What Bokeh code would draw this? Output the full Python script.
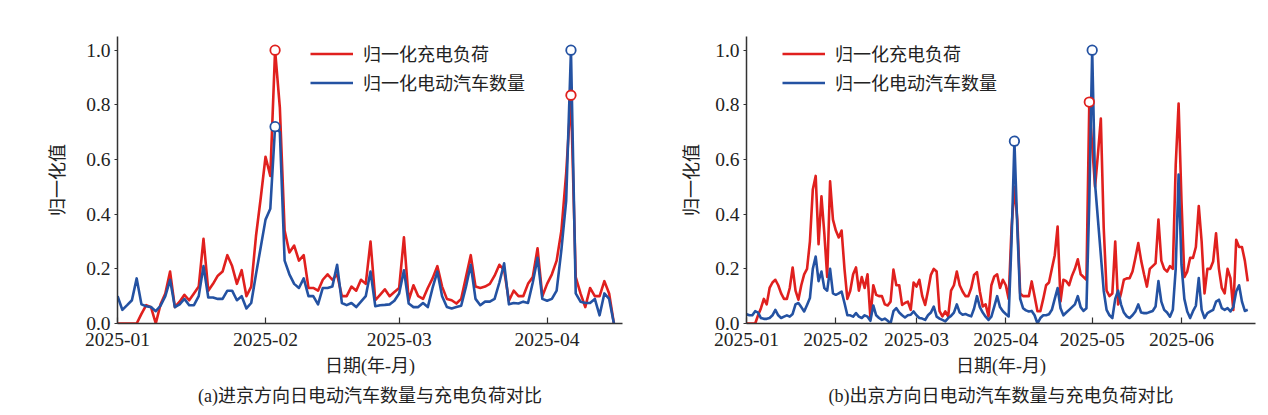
import pandas as pd
from bokeh.plotting import figure
from bokeh.models import (Range1d, DatetimeTickFormatter, Legend, LegendItem,
                          Title, FixedTicker, PrintfTickFormatter)
from bokeh.layouts import row
from bokeh.embed import file_html
from bokeh.resources import INLINE

# ---------------- data ----------------
start_date = "2025-01-01"
month_ticks = ["2025-01-01", "2025-02-01", "2025-03-01", "2025-04-01",
               "2025-05-01", "2025-06-01", "2025-07-01"]

# (a) 进京方向, daily values from 2025-01-01
red_a = [
    0.0, 0.0, 0.0, 0.0, 0.0, 0.035, 0.067, 0.06, 0.0, 0.07,
    0.11, 0.19, 0.06, 0.08, 0.105, 0.085, 0.11, 0.135, 0.31, 0.12,
    0.145, 0.175, 0.19, 0.25, 0.21, 0.145, 0.195, 0.10, 0.135, 0.32,
    0.46, 0.61, 0.54, 1.0, 0.79, 0.34, 0.26, 0.285, 0.23, 0.25,
    0.13, 0.13, 0.12, 0.16, 0.18, 0.16, 0.18, 0.10, 0.10, 0.135,
    0.12, 0.16, 0.145, 0.30, 0.085, 0.105, 0.125, 0.10, 0.115, 0.13,
    0.315, 0.085, 0.14, 0.10, 0.09, 0.13, 0.165, 0.21, 0.135, 0.09,
    0.085, 0.073, 0.09, 0.17, 0.25, 0.135, 0.13, 0.135, 0.145, 0.175,
    0.215, 0.195, 0.083, 0.12, 0.10, 0.10, 0.145, 0.17, 0.275, 0.10,
    0.145, 0.18, 0.23, 0.34, 0.55, 0.835, 0.17, 0.11, 0.06, 0.13,
    0.10, 0.10, 0.155, 0.11, 0.0]
blue_a = [
    0.10, 0.05, 0.067, 0.085, 0.165, 0.07, 0.063, 0.06, 0.045, 0.065,
    0.10, 0.16, 0.06, 0.07, 0.09, 0.067, 0.067, 0.10, 0.21, 0.095,
    0.095, 0.09, 0.09, 0.12, 0.12, 0.085, 0.10, 0.055, 0.075, 0.18,
    0.28, 0.38, 0.42, 0.72, 0.70, 0.23, 0.18, 0.145, 0.13, 0.165,
    0.10, 0.10, 0.07, 0.13, 0.13, 0.135, 0.215, 0.075, 0.067, 0.075,
    0.06, 0.08, 0.10, 0.19, 0.063, 0.067, 0.068, 0.07, 0.083, 0.11,
    0.195, 0.073, 0.06, 0.06, 0.075, 0.06, 0.13, 0.19, 0.10, 0.06,
    0.055, 0.06, 0.065, 0.135, 0.215, 0.09, 0.067, 0.08, 0.08, 0.09,
    0.15, 0.22, 0.07, 0.075, 0.073, 0.08, 0.075, 0.15, 0.24, 0.09,
    0.083, 0.09, 0.12, 0.27, 0.45, 1.0, 0.11, 0.08, 0.075, 0.075,
    0.09, 0.03, 0.11, 0.09, 0.0]
mark_a_red = [33, 95]
mark_a_blue = [33, 95]

# (b) 出京方向, daily values from 2025-01-01
red_b = [
    0.0, 0.0, 0.0, 0.0, 0.03, 0.056, 0.09, 0.07, 0.13, 0.15,
    0.16, 0.14, 0.11, 0.09, 0.09, 0.13, 0.205, 0.12, 0.087, 0.14,
    0.18, 0.20, 0.30, 0.49, 0.54, 0.29, 0.465, 0.33, 0.17, 0.52,
    0.38, 0.34, 0.315, 0.34, 0.20, 0.09, 0.12, 0.18, 0.205, 0.12,
    0.17, 0.13, 0.18, 0.02, 0.14, 0.105, 0.10, 0.10, 0.07, 0.066,
    0.08, 0.197, 0.14, 0.14, 0.068, 0.075, 0.08, 0.05, 0.15, 0.135,
    0.16, 0.10, 0.068, 0.12, 0.178, 0.20, 0.19, 0.045, 0.026, 0.044,
    0.026, 0.12, 0.14, 0.19, 0.14, 0.117, 0.10, 0.10, 0.13, 0.178,
    0.188, 0.117, 0.062, 0.07, 0.026, 0.14, 0.172, 0.18, 0.13, 0.16,
    0.14, 0.09, 0.35, 0.50, 0.38, 0.11, 0.10, 0.10, 0.10, 0.154,
    0.10, 0.045, 0.045, 0.09, 0.14, 0.15, 0.20, 0.25, 0.355, 0.08,
    0.16, 0.155, 0.14, 0.175, 0.20, 0.235, 0.18, 0.17, 0.16, 0.81,
    0.65, 0.50, 0.62, 0.75, 0.35, 0.12, 0.10, 0.11, 0.30, 0.07,
    0.11, 0.16, 0.165, 0.166, 0.19, 0.24, 0.294, 0.23, 0.18, 0.135,
    0.20, 0.21, 0.22, 0.38, 0.23, 0.20, 0.19, 0.21, 0.20, 0.58,
    0.805, 0.45, 0.17, 0.19, 0.24, 0.24, 0.28, 0.43, 0.30, 0.11,
    0.20, 0.20, 0.227, 0.33, 0.20, 0.13, 0.11, 0.20, 0.166, 0.05,
    0.306, 0.28, 0.28, 0.23, 0.154]
blue_b = [
    0.034, 0.03, 0.03, 0.045, 0.04, 0.02, 0.017, 0.017, 0.02, 0.03,
    0.05, 0.03, 0.02, 0.025, 0.03, 0.025, 0.035, 0.07, 0.075, 0.06,
    0.044, 0.068, 0.093, 0.20, 0.245, 0.155, 0.19, 0.13, 0.12, 0.20,
    0.11, 0.105, 0.11, 0.117, 0.075, 0.03, 0.03, 0.025, 0.038, 0.025,
    0.02, 0.03, 0.025, 0.01, 0.066, 0.03, 0.02, 0.013, 0.018, 0.01,
    0.0, 0.045, 0.056, 0.04, 0.03, 0.022, 0.03, 0.032, 0.044, 0.03,
    0.02, 0.018, 0.013, 0.03, 0.04, 0.062, 0.025, 0.018, 0.013, 0.008,
    0.02, 0.028, 0.04, 0.07, 0.04, 0.032, 0.035, 0.03, 0.026, 0.055,
    0.10, 0.06, 0.04, 0.025, 0.013, 0.025, 0.062, 0.10, 0.06, 0.045,
    0.035, 0.026, 0.30, 0.667, 0.35, 0.09, 0.056, 0.048, 0.044, 0.046,
    0.03, 0.0, 0.02, 0.03, 0.03, 0.034, 0.05, 0.09, 0.13, 0.056,
    0.03, 0.04, 0.05, 0.06, 0.07, 0.10, 0.06, 0.046, 0.056, 0.45,
    1.0, 0.51, 0.38, 0.25, 0.12, 0.05, 0.03, 0.02, 0.09, 0.12,
    0.07, 0.04, 0.026, 0.02, 0.03, 0.044, 0.07, 0.04, 0.038, 0.038,
    0.042, 0.046, 0.062, 0.155, 0.08, 0.05, 0.04, 0.025, 0.05, 0.20,
    0.545, 0.215, 0.09, 0.044, 0.02, 0.045, 0.065, 0.166, 0.05, 0.02,
    0.038, 0.044, 0.05, 0.08, 0.087, 0.056, 0.05, 0.056, 0.044, 0.06,
    0.117, 0.14, 0.08, 0.046, 0.05]
mark_b_red = [119]
mark_b_blue = [93, 120]

y_ticks = [0.0, 0.2, 0.4, 0.6, 0.8, 1.0]
label_red = "归一化充电负荷"
label_blue = "归一化电动汽车数量"
x_title = "日期(年-月)"
y_title = "归一化值"
caption_a = "(a)进京方向日电动汽车数量与充电负荷对比"
caption_b = "(b)出京方向日电动汽车数量与充电负荷对比"

# ---------------- style ----------------
RED = "#e0201e"
BLUE = "#2452a2"
AX = "#333333"
TXT = "#222222"
SERIF = "Liberation Serif"
MIXED = "Liberation Serif, Noto Sans CJK SC"
CJK = "Noto Sans CJK SC"


def ms(s):
    return pd.Timestamp(s).value / 1e6


def make_panel(red, blue, mred, mblue, span_days, b_left, f_width, b_right,
               legend_loc, lab_standoff, caption):
    d0 = pd.Timestamp(start_date)
    dates = pd.date_range(d0, periods=len(red), freq="D")
    xr = Range1d(ms(start_date) - 0.02 * 86400000,
                 ms(start_date) + span_days * 86400000)
    p = figure(x_axis_type="datetime", x_range=xr, y_range=Range1d(0, 1.05),
               frame_width=f_width, frame_height=287,
               min_border_left=b_left, min_border_right=b_right,
               min_border_top=36, min_border_bottom=86,
               output_backend="svg", toolbar_location=None,
               background_fill_color="white", border_fill_color="white")
    p.outline_line_color = None
    p.grid.visible = False

    r1 = p.line(dates, red, line_color=RED, line_width=2.6, line_join="round")
    r2 = p.line(dates, blue, line_color=BLUE, line_width=2.6, line_join="round")
    p.scatter([dates[i] for i in mred], [red[i] for i in mred], size=9.5,
              marker="circle", fill_color="white", line_color=RED, line_width=1.8)
    p.scatter([dates[i] for i in mblue], [blue[i] for i in mblue], size=9.5,
              marker="circle", fill_color="white", line_color=BLUE, line_width=1.8)

    xa = p.xaxis[0]
    xa.ticker = FixedTicker(ticks=[ms(t) for t in month_ticks])
    xa.formatter = DatetimeTickFormatter(days="%Y-%m", months="%Y-%m", years="%Y-%m",
                                         hours="%Y-%m", minutes="%Y-%m")
    xa.major_tick_in = 6
    xa.major_tick_out = 0
    xa.minor_tick_line_color = None
    xa.axis_line_color = AX
    xa.axis_line_width = 1.5
    xa.major_tick_line_color = AX
    xa.major_tick_line_width = 1.2
    xa.major_label_text_font = SERIF
    xa.major_label_text_font_size = "19.5px"
    xa.major_label_text_color = TXT
    xa.major_label_standoff = 9
    xa.axis_label = x_title
    xa.axis_label_text_font = MIXED
    xa.axis_label_text_font_size = "18px"
    xa.axis_label_text_font_style = "normal"
    xa.axis_label_text_color = TXT
    xa.axis_label_standoff = 7

    ya = p.yaxis[0]
    ya.ticker = FixedTicker(ticks=y_ticks)
    ya.formatter = PrintfTickFormatter(format="%.1f")
    ya.major_tick_in = 0
    ya.major_tick_out = 3
    ya.minor_tick_line_color = None
    ya.axis_line_color = AX
    ya.axis_line_width = 1.5
    ya.major_tick_line_color = AX
    ya.major_tick_line_width = 1.2
    ya.major_label_text_font = SERIF
    ya.major_label_text_font_size = "19.5px"
    ya.major_label_text_color = TXT
    ya.major_label_standoff = 4
    ya.axis_label = y_title
    ya.axis_label_text_font = CJK
    ya.axis_label_text_font_size = "18px"
    ya.axis_label_text_font_style = "normal"
    ya.axis_label_text_color = TXT
    ya.axis_label_standoff = lab_standoff

    leg = Legend(items=[LegendItem(label=label_red, renderers=[r1]),
                        LegendItem(label=label_blue, renderers=[r2])],
                 location=legend_loc, orientation="vertical",
                 glyph_width=43, glyph_height=25, label_height=25,
                 label_standoff=10, spacing=3, padding=0, margin=0,
                 border_line_alpha=0, background_fill_alpha=0,
                 label_text_font=CJK, label_text_font_size="18px",
                 label_text_color=TXT)
    p.add_layout(leg)

    p.add_layout(Title(text=caption, align="center", text_font=MIXED,
                       text_font_size="18px", text_font_style="normal",
                       text_color=TXT), "below")
    return p


pa = make_panel(red_a, blue_a, mark_a_red, mark_a_blue, 105.8,
                117, 505, 10, (193, 228), 14, caption_a)
pb = make_panel(red_b, blue_b, mark_b_red, mark_b_blue, 176.7,
                114, 509, 5, (36, 228), 9, caption_b)

layout = row(pa, pb)
open("out.html", "w").write(file_html(layout, INLINE))
